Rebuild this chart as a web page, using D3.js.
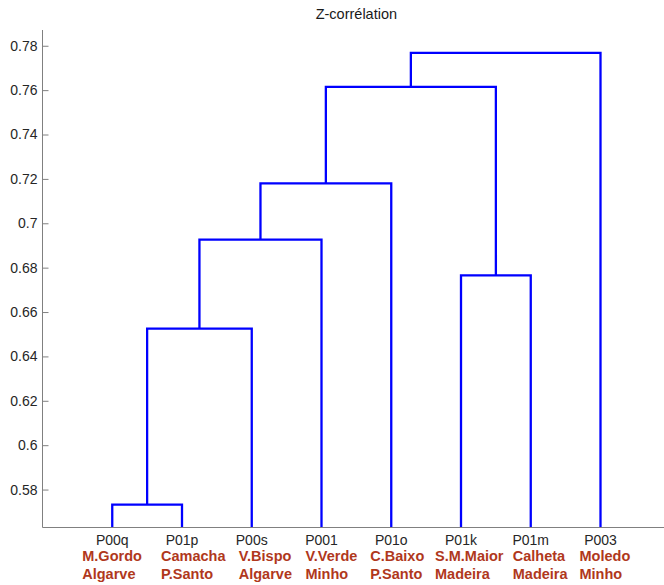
<!DOCTYPE html>
<html>
<head>
<meta charset="utf-8">
<script src="https://cdn.jsdelivr.net/npm/d3@7"></script>
<style>
  html, body { margin: 0; padding: 0; background: #fff; }
  svg { display: block; font-family: "Liberation Sans", Arial, sans-serif; }
</style>
</head>
<body>
<svg id="chart" width="664" height="585"></svg>
<script>
// Leaves in display order
const leafIds   = ["P00q", "P01p", "P00s", "P001", "P01o", "P01k", "P01m", "P003"];
const siteNames = ["M.Gordo", "Camacha", "V.Bispo", "V.Verde", "C.Baixo", "S.M.Maior", "Calheta", "Moledo"];
const regions   = ["Algarve", "P.Santo", "Algarve", "Minho", "P.Santo", "Madeira", "Madeira", "Minho"];

// Linkage (leaves are 1..8, new clusters numbered 9..15 in merge order)
const mergeLeft   = [1, 9, 6, 10, 12, 13, 14];
const mergeRight  = [2, 3, 7, 4, 5, 11, 8];
const mergeHeight = [0.5732, 0.6525, 0.6765, 0.6926, 0.718, 0.7615, 0.7768];

const yTicks = [0.58, 0.6, 0.62, 0.64, 0.66, 0.68, 0.7, 0.72, 0.74, 0.76, 0.78];
const yDomain = [0.5629, 0.7871];

// Layout
const plotLeft = 42.5, plotBottom = 527.5, plotTop = 30, step = 69.75;
const labelShift = [-30, -21, -13, -16, -21, -26, -18, -21]; // start of site/region text relative to leaf

const svg = d3.select("#chart");
const x = d3.scaleLinear().domain([0, leafIds.length + 1]).range([plotLeft, plotLeft + step * (leafIds.length + 1)]);
const y = d3.scaleLinear().domain(yDomain).range([plotBottom, plotTop]);

// Node positions: leaves at 1..n, clusters at mean of children x
const n = leafIds.length;
const nodeX = {}, nodeH = {};
leafIds.forEach((d, i) => { nodeX[i + 1] = i + 1; nodeH[i + 1] = yDomain[0]; });
mergeLeft.forEach((l, k) => {
  const id = n + 1 + k;
  nodeX[id] = (nodeX[l] + nodeX[mergeRight[k]]) / 2;
  nodeH[id] = mergeHeight[k];
});

svg.append("defs").append("clipPath").attr("id", "plot")
  .append("rect").attr("x", plotLeft).attr("y", plotTop).attr("width", 664 - plotLeft).attr("height", plotBottom - plotTop);

// Dendrogram links
const g = svg.append("g").attr("clip-path", "url(#plot)");
g.selectAll("path.link")
  .data(mergeLeft.map((l, k) => ({ l, r: mergeRight[k], h: mergeHeight[k] })))
  .join("path")
  .attr("class", "link")
  .attr("fill", "none")
  .attr("stroke", "#0000ff")
  .attr("stroke-width", 2.3)
  .attr("stroke-linejoin", "miter")
  .attr("d", d => {
    const p = d3.path();
    p.moveTo(x(nodeX[d.l]), y(nodeH[d.l]));
    p.lineTo(x(nodeX[d.l]), y(d.h));
    p.lineTo(x(nodeX[d.r]), y(d.h));
    p.lineTo(x(nodeX[d.r]), y(nodeH[d.r]));
    return p.toString();
  });

// Axes
const axisColor = "#808080";
const yAxis = svg.append("g")
  .attr("transform", `translate(${plotLeft},0)`)
  .call(d3.axisLeft(y).tickValues(yTicks).tickSize(-6).tickPadding(12).tickFormat(d3.format("~g")));
yAxis.select(".domain").remove();
yAxis.selectAll(".tick line").attr("stroke", axisColor);
yAxis.selectAll(".tick text")
  .attr("x", -5)
  .attr("fill", "#262626")
  .style("font-size", "14px")
  .style("font-family", "Liberation Sans, Arial, sans-serif");

svg.append("line").attr("x1", plotLeft).attr("x2", plotLeft).attr("y1", plotTop).attr("y2", plotBottom)
  .attr("stroke", axisColor).attr("stroke-width", 1);
svg.append("line").attr("x1", plotLeft).attr("x2", 664).attr("y1", plotBottom).attr("y2", plotBottom)
  .attr("stroke", axisColor).attr("stroke-width", 1);

// Leaf labels
const leafG = svg.append("g");
leafG.selectAll("text.id")
  .data(leafIds)
  .join("text")
  .attr("class", "id")
  .attr("x", (d, i) => x(i + 1))
  .attr("y", 544.5)
  .attr("text-anchor", "middle")
  .attr("fill", "#262626")
  .style("font-size", "14px")
  .text(d => d);

const red = "#b0381c";
leafG.selectAll("text.site")
  .data(siteNames)
  .join("text")
  .attr("class", "site")
  .attr("x", (d, i) => x(i + 1) + labelShift[i])
  .attr("y", 561)
  .attr("fill", red)
  .style("font-size", "14.5px")
  .style("font-weight", "bold")
  .text(d => d);

leafG.selectAll("text.region")
  .data(regions)
  .join("text")
  .attr("class", "region")
  .attr("x", (d, i) => x(i + 1) + labelShift[i])
  .attr("y", 578.5)
  .attr("fill", red)
  .style("font-size", "14.5px")
  .style("font-weight", "bold")
  .text(d => d);

// Title
svg.append("text")
  .attr("x", (plotLeft + x(n + 1)) / 2)
  .attr("y", 19)
  .attr("text-anchor", "middle")
  .attr("fill", "#1a1a1a")
  .style("font-size", "14.5px")
  .text("Z-corrélation");
</script>
</body>
</html>
